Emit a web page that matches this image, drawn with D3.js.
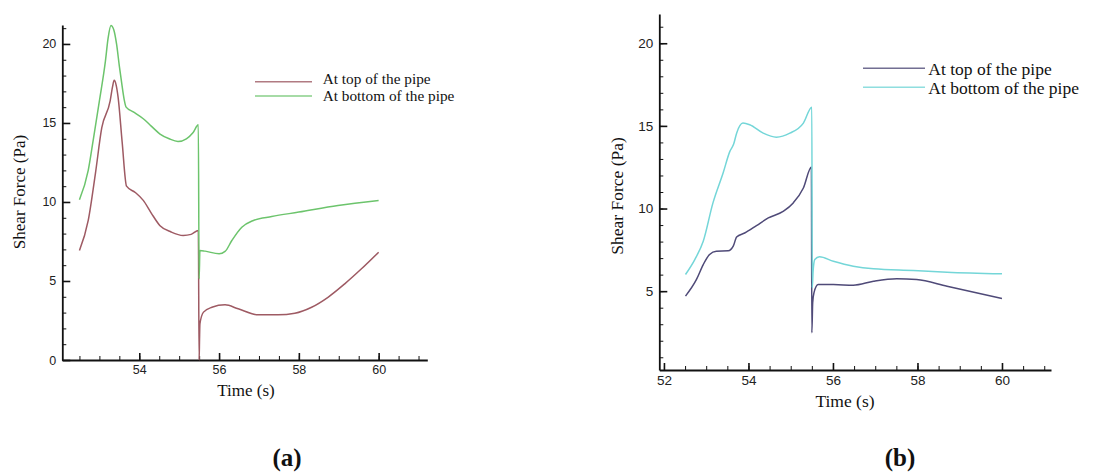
<!DOCTYPE html>
<html>
<head>
<meta charset="utf-8">
<script src="https://cdn.jsdelivr.net/npm/d3@7"></script>
<style>
  body { margin: 0; background: #fff; }
  .tick text { font-family: "Liberation Sans", Arial, sans-serif; font-size: 13px; fill: #222; }
  .serif { font-family: "Liberation Serif", "Times New Roman", serif; fill: #111; }
</style>
</head>
<body>
<div id="chart"></div>
<script>
// Serie (a): shear force on the pipe
const timeA_top = [52.5, 52.72, 52.9, 53.06, 53.27, 53.33, 53.37, 53.42, 53.47, 53.57, 53.68, 53.9, 54.1, 54.3, 54.52, 54.8, 55.1, 55.3, 55.48, 55.5, 55.51, 55.52, 55.61, 55.82, 56.15, 56.48, 56.98, 57.48, 57.9, 58.32, 58.73, 59.15, 59.57, 60];
const shearA_top = [6.93, 8.83, 11.8, 14.7, 16.4, 17.3, 17.7, 17.4, 16.6, 13.8, 11.0, 10.6, 10.1, 9.3, 8.5, 8.1, 7.88, 7.95, 8.2, 0.0, 1.3, 2.29, 3.03, 3.34, 3.49, 3.24, 2.86, 2.86, 2.96, 3.34, 3.97, 4.82, 5.77, 6.82];

const timeA_bottom = [52.5, 52.72, 52.85, 53.0, 53.15, 53.22, 53.29, 53.36, 53.43, 53.5, 53.56, 53.62, 53.67, 53.85, 54.1, 54.3, 54.52, 54.75, 54.97, 55.18, 55.35, 55.48, 55.5, 55.52, 55.65, 56.0, 56.15, 56.32, 56.57, 56.86, 57.32, 58.0, 58.98, 60];
const shearA_bottom = [10.14, 12.0, 14.0, 16.4, 18.9, 20.4, 21.17, 20.9, 20.0, 18.6, 17.5, 16.5, 16.0, 15.7, 15.27, 14.8, 14.3, 14.0, 13.83, 14.0, 14.4, 14.88, 5.14, 6.93, 6.89, 6.72, 6.87, 7.56, 8.4, 8.83, 9.08, 9.36, 9.78, 10.1];

// Serie (b)
const timeB_top = [52.51, 52.77, 52.93, 53.08, 53.24, 53.52, 53.64, 53.72, 53.91, 54.19, 54.47, 54.82, 55.06, 55.3, 55.49, 55.5, 55.52, 55.55, 55.65, 56.01, 56.48, 56.96, 57.51, 57.98, 58.7, 60];
const shearB_top = [4.7, 5.71, 6.61, 7.22, 7.42, 7.44, 7.72, 8.28, 8.52, 8.97, 9.43, 9.83, 10.34, 11.24, 12.51, 2.48, 4.3, 4.9, 5.4, 5.4, 5.36, 5.6, 5.75, 5.7, 5.3, 4.56];

const timeB_bottom = [52.51, 52.73, 52.93, 53.16, 53.4, 53.56, 53.65, 53.72, 53.87, 54.03, 54.35, 54.66, 54.98, 55.3, 55.5, 55.51, 55.53, 55.57, 55.68, 56.01, 56.48, 56.96, 57.9, 58.7, 60];
const shearB_bottom = [6.01, 6.91, 8.02, 10.34, 12.15, 13.46, 13.9, 14.56, 15.17, 15.07, 14.56, 14.32, 14.56, 15.17, 16.13, 5.2, 6.2, 6.91, 7.08, 6.81, 6.51, 6.35, 6.25, 6.15, 6.05];

const seriesNames = ["At top of the pipe", "At bottom of the pipe"];
const colorsA = ["#9e5a63", "#6cc46c"];
const colorsB = ["#4f4a78", "#74d6d8"];

const xMajor = [52, 54, 56, 58, 60];
const xMinor = d3.range(52, 61.01, 0.5);
const yMajor = [0, 5, 10, 15, 20];
const yMinor = d3.range(0, 22, 1);

const svg = d3.select("#chart").append("svg")
    .attr("width", 1095)
    .attr("height", 472);

function drawPanel(cfg) {
    const x = d3.scaleLinear().domain(cfg.xDomain).range(cfg.xRange);
    const y = d3.scaleLinear().domain(cfg.yDomain).range(cfg.yRange);
    const inX = v => v >= cfg.xDomain[0] && v <= cfg.xDomain[1];
    const inY = v => v >= cfg.yDomain[0] && v <= cfg.yDomain[1];

    const g = svg.append("g");
    const x0 = cfg.yRange[0], y0 = cfg.xRange[0];

    // minor ticks
    g.append("g")
        .attr("transform", `translate(0,${x0})`)
        .call(d3.axisBottom(x).tickValues(xMinor.filter(inX)).tickSize(-4).tickSizeOuter(0).tickFormat(""))
        .call(a => a.select(".domain").remove());
    g.append("g")
        .attr("transform", `translate(${y0},0)`)
        .call(d3.axisLeft(y).tickValues(yMinor.filter(inY)).tickSize(-4).tickSizeOuter(0).tickFormat(""))
        .call(a => a.select(".domain").remove());

    // major ticks + labels
    const ax = g.append("g")
        .attr("transform", `translate(0,${x0})`)
        .call(d3.axisBottom(x).tickValues(xMajor.filter(inX)).tickSize(-7).tickSizeOuter(0).tickPadding(5));
    ax.select(".domain").attr("stroke-width", 2);
    ax.selectAll(".tick line").attr("stroke-width", 1.6);
    ax.selectAll(".tick text").style("font-size", cfg.tickFont + "px");

    const ay = g.append("g")
        .attr("transform", `translate(${y0},0)`)
        .call(d3.axisLeft(y).tickValues(yMajor.filter(inY)).tickSize(-8).tickSizeOuter(0).tickPadding(6));
    ay.select(".domain").attr("stroke-width", 1.8);
    ay.selectAll(".tick line").attr("stroke-width", 1.6);
    ay.selectAll(".tick text").style("font-size", cfg.tickFont + "px");

    g.selectAll(".tick line, .domain").attr("stroke", "#111");

    // curves
    const line = d3.line().x(d => x(d[0])).y(d => y(d[1])).curve(d3.curveMonotoneX);
    cfg.series.forEach((s, i) => {
        g.append("path")
            .datum(d3.zip(s.t, s.v))
            .attr("fill", "none")
            .attr("stroke", cfg.colors[i])
            .attr("stroke-width", 1.5)
            .attr("stroke-linejoin", "round")
            .attr("d", line);
    });

    // axis titles
    g.append("text").attr("class", "serif")
        .attr("x", cfg.xTitle[0]).attr("y", cfg.xTitle[1])
        .attr("text-anchor", "middle")
        .style("font-size", cfg.titleFont + "px")
        .text("Time (s)");
    g.append("text").attr("class", "serif")
        .attr("transform", `translate(${cfg.yTitle[0]},${cfg.yTitle[1]}) rotate(-90)`)
        .attr("text-anchor", "middle")
        .style("font-size", cfg.titleFont + "px")
        .text("Shear Force (Pa)");

    // legend
    seriesNames.forEach((name, i) => {
        g.append("line")
            .attr("x1", cfg.legend.x1).attr("x2", cfg.legend.x2)
            .attr("y1", cfg.legend.lineY[i]).attr("y2", cfg.legend.lineY[i])
            .attr("stroke", cfg.colors[i]).attr("stroke-width", 1.4).attr("opacity", 0.8);
        g.append("text").attr("class", "serif")
            .attr("x", cfg.legend.tx).attr("y", cfg.legend.textY[i])
            .style("font-size", cfg.legend.font + "px")
            .text(name);
    });

    // panel label
    g.append("text").attr("class", "serif")
        .attr("x", cfg.label[0]).attr("y", cfg.label[1])
        .attr("text-anchor", "middle")
        .style("font-size", "25px").style("font-weight", "bold")
        .text(cfg.labelText);
}

drawPanel({
    xDomain: [52.07, 61.22], xRange: [62.3, 427.3],
    yDomain: [0, 21.2], yRange: [360, 25],
    tickFont: 12.5, titleFont: 17,
    colors: colorsA,
    series: [{ t: timeA_top, v: shearA_top }, { t: timeA_bottom, v: shearA_bottom }],
    xTitle: [246, 396], yTitle: [25, 192],
    legend: { x1: 255, x2: 312, lineY: [81.7, 96], tx: 322.7, textY: [83.5, 100.5], font: 15.3 },
    label: [287, 466], labelText: "(a)"
});

drawPanel({
    xDomain: [51.89, 61.16], xRange: [659.3, 1051],
    yDomain: [0.23, 21.77], yRange: [370, 14],
    tickFont: 13.5, titleFont: 17.5,
    colors: colorsB,
    series: [{ t: timeB_top, v: shearB_top }, { t: timeB_bottom, v: shearB_bottom }],
    xTitle: [845, 407], yTitle: [623, 196],
    legend: { x1: 863, x2: 925, lineY: [68.3, 87.3], tx: 928.3, textY: [75, 94.3], font: 17.5 },
    label: [900, 466], labelText: "(b)"
});
</script>
</body>
</html>
